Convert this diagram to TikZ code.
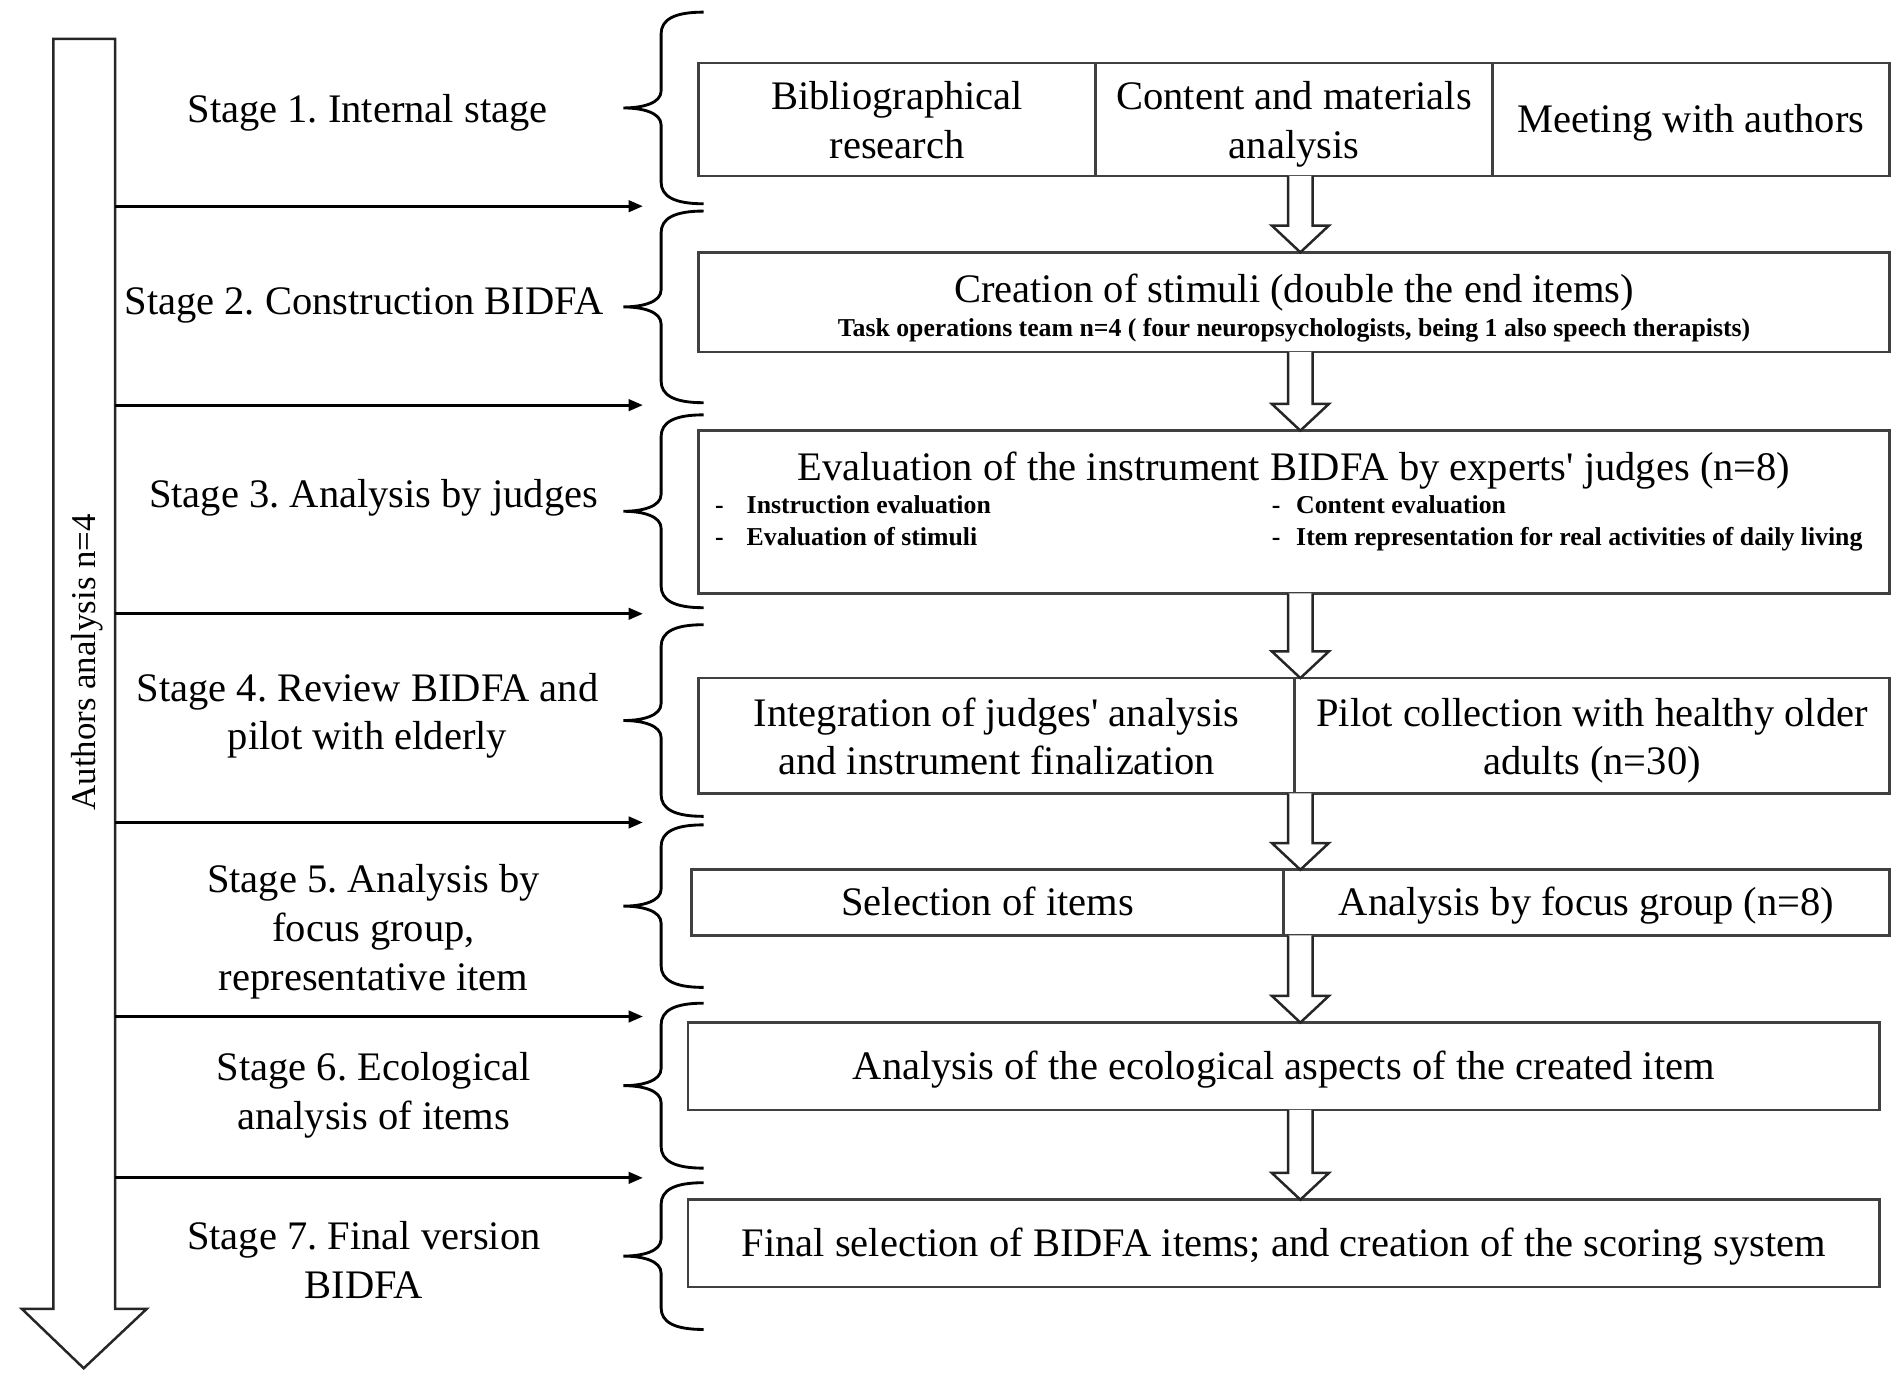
\documentclass[tikz,border=0pt]{standalone}
\usepackage{fontspec}
\setmainfont{Liberation Serif}
\usetikzlibrary{positioning, arrows.meta, calc}
\frenchspacing

% struts that lower the text onto the node centre
\newcommand{\lstrut}{\rule[-0.22em]{0pt}{1.1em}}
\newcommand{\mstrut}{\rule{0pt}{0.95em}}% first line of a two-line text

% curly brace to the left of a row, from top y to bottom y
\newcommand{\stagebrace}[2]{%
  \draw[curly] (580,#1) .. controls (556,#1) and (545,{#1+6}) .. (545,{#1+18})
    -- (545,{(#1+#2)/2-14}) .. controls (545,{(#1+#2)/2-4}) and (530,{(#1+#2)/2}) .. (514,{(#1+#2)/2})
    .. controls (530,{(#1+#2)/2}) and (545,{(#1+#2)/2+4}) .. (545,{(#1+#2)/2+14})
    -- (545,{#2-18}) .. controls (545,{#2-6}) and (556,#2) .. (580,#2);}

% hollow block arrow from one row down to the next
\newcommand{\flowarrow}[2]{%
  \draw[hollow] let \p1=(#1.south -| ax), \p2=(#2.north -| ax) in
    (\x1-0.12cm,\y1) -- (\x1-0.12cm,\y2+0.264cm) -- (\x1-0.282cm,\y2+0.264cm)
    -- (\x2,\y2) -- (\x1+0.282cm,\y2+0.264cm) -- (\x1+0.12cm,\y2+0.264cm)
    -- (\x1+0.12cm,\y1);}

\begin{document}
\begin{tikzpicture}[
    x=0.012cm, y=-0.012cm,
    font=\fontsize{11.4}{13.7}\selectfont,
    cell/.style={draw=black!75, line width=0.7pt, inner sep=0pt, outer sep=0pt, align=center, anchor=north west,
      execute at begin node=\lstrut, execute at end node=\lstrut},
    note/.style={font=\fontsize{7.25}{8.5}\selectfont\bfseries, inner sep=0pt},
    stage/.style={align=center, inner sep=0pt, execute at begin node=\lstrut, execute at end node=\lstrut},
    curly/.style={line width=0.8pt},
    hollow/.style={draw=black!85, line width=0.7pt, fill=white},
    link/.style={-{Triangle[length=4pt, width=3.2pt]}, line width=0.8pt},
]
\useasboundingbox (0,0) rectangle (1568,1139);
\coordinate (ax) at (1072,0);

% Authors axis
\draw[hollow] (44,32) -- (95,32) -- (95,1079) -- (121,1079) -- (69,1128) -- (18,1079) -- (44,1079) -- cycle;
\node[stage, rotate=90, font=\fontsize{9.8}{12}\selectfont] (authors) at (69,546) {Authors analysis n=4};
\foreach \y in {170,334,506,678,838,971}
  \draw[link] (95,\y) -- (530,\y);

% Stage names
\node[stage] (s1) at (303,90) {Stage 1. Internal stage};
\node[stage] (s2) at (300,248) {Stage 2. Construction BIDFA};
\node[stage] (s3) at (308,407) {Stage 3. Analysis by judges};
\node[stage] (s4) at (303,586) {\mstrut Stage 4. Review BIDFA and\\pilot with elderly};
\node[stage] (s5) at (308,764) {\mstrut Stage 5. Analysis by\\focus group,\\representative item};
\node[stage] (s6) at (308,899) {\mstrut Stage 6. Ecological\\analysis of items};
\node[stage] (s7) at (300,1038) {\mstrut Stage 7. Final version\\BIDFA};

% Braces
\stagebrace{10}{168}
\stagebrace{174}{332}
\stagebrace{342}{501}
\stagebrace{515}{673}
\stagebrace{680}{814}
\stagebrace{827}{963}
\stagebrace{975}{1096}

% Row 1
\node[cell, minimum width=3.924cm, minimum height=1.116cm] (biblio) at (576,52) {\mstrut Bibliographical\\research};
\node[cell, minimum width=3.924cm, minimum height=1.116cm, right=0pt of biblio] (content) {\mstrut Content and materials\\analysis};
\node[cell, minimum width=3.924cm, minimum height=1.116cm, right=0pt of content] (meeting) {Meeting with authors};

% Row 2
\node[cell, minimum width=11.772cm, minimum height=0.984cm] (stimuli) at (576,208) {};
\node[anchor=base, inner sep=0pt] (stimulit) at ($(stimuli.north)+(0,41)$) {Creation of stimuli (double the end items)};
\node[note, anchor=base] (team) at ($(stimuli.north)+(0,69)$) {Task operations team n=4 ( four neuropsychologists, being 1 also speech therapists)};

% Row 3
\node[cell, minimum width=11.772cm, minimum height=1.608cm] (judges) at (576,355) {};
\node[anchor=base, inner sep=0pt] (judgest) at ($(judges.north)+(0,41)$) {Evaluation of the instrument BIDFA by experts\textquotesingle{} judges (n=8)};
\node[note, anchor=base] (d1) at ($(judges.north west)+(17,68)$) {-};
\node[note, anchor=base west] (b1) at ($(judges.north west)+(39,68)$) {Instruction evaluation};
\node[note, anchor=base] (d2) at ($(judges.north west)+(17,95)$) {-};
\node[note, anchor=base west] (b2) at ($(judges.north west)+(39,95)$) {Evaluation of stimuli};
\node[note, anchor=base] (d3) at ($(judges.north west)+(476,68)$) {-};
\node[note, anchor=base west] (b3) at ($(judges.north west)+(492,68)$) {Content evaluation};
\node[note, anchor=base] (d4) at ($(judges.north west)+(476,95)$) {-};
\node[note, anchor=base west] (b4) at ($(judges.north west)+(492,95)$) {Item representation for real activities of daily living};

% Row 4
\node[cell, minimum width=5.892cm, minimum height=1.14cm] (integr) at (576,559) {\mstrut Integration of judges\textquotesingle{} analysis\\and instrument finalization};
\node[cell, minimum width=5.88cm, minimum height=1.14cm, right=0pt of integr] (pilot) {\mstrut Pilot collection with healthy older\\adults (n=30)};

% Row 5
\node[cell, minimum width=5.856cm, minimum height=0.648cm] (select) at (570,717) {Selection of items};
\node[cell, minimum width=5.988cm, minimum height=0.648cm, right=0pt of select] (focus) {Analysis by focus group (n=8)};

% Row 6 and 7
\node[cell, minimum width=11.784cm, minimum height=0.864cm] (ecolog) at (567,843) {Analysis of the ecological aspects of the created item};
\node[cell, minimum width=11.784cm, minimum height=0.864cm] (final) at (567,989) {Final selection of BIDFA items; and creation of the scoring system};

% Flow between rows
\flowarrow{content}{stimuli}
\flowarrow{stimuli}{judges}
\flowarrow{judges}{pilot}
\flowarrow{pilot}{focus}
\flowarrow{focus}{ecolog}
\flowarrow{ecolog}{final}
\end{tikzpicture}
\end{document}
